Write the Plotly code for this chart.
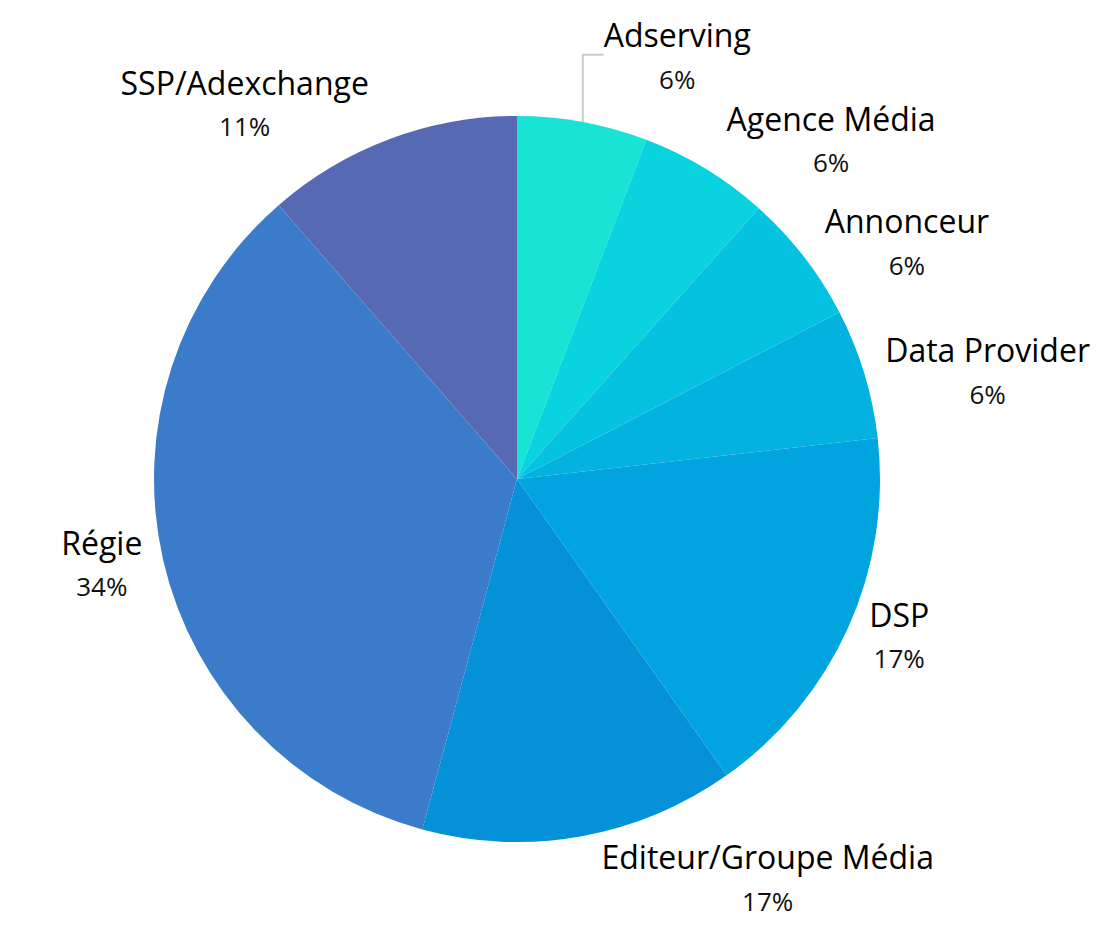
import plotly.graph_objects as go

categories = ["Adserving", "Agence Média", "Annonceur", "Data Provider", "DSP",
              "Editeur/Groupe Média", "Régie", "SSP/Adexchange"]
shares = [5.8, 5.8, 5.8, 5.8, 17.0, 14.0, 34.4, 11.4]
pct_labels = ["6%", "6%", "6%", "6%", "17%", "17%", "34%", "11%"]
colors = ["#19E3D5", "#08D3DE", "#05C3E0", "#04B2E0", "#02A4E0", "#0491D8", "#3A7CC9", "#5869B4"]

W, H = 1119, 940
cx, cy, r = 509, 471, 363  # offset for 8px page margin

fig = go.Figure(go.Pie(
    labels=categories,
    values=shares,
    text=pct_labels,
    sort=False,
    direction="clockwise",
    rotation=0,
    marker=dict(colors=colors, line=dict(width=0)),
    textposition="outside",
    texttemplate="<span style='color:#000'>%{label}</span><br>"
                 "<span style='font-size:26px;color:#111'>%{text}</span>",
    textfont=dict(family="Open Sans, sans-serif", size=32, color="#cccccc"),
    automargin=False,
    showlegend=False,
    hoverinfo="label+text",
    domain=dict(x=[(cx - r) / W, (cx + r) / W], y=[(H - cy - r) / H, (H - cy + r) / H]),
))
fig.update_layout(
    width=W, height=H,
    margin=dict(l=0, r=0, t=0, b=0),
    paper_bgcolor="white",
    plot_bgcolor="white",
)
fig.write_html("out.html")
